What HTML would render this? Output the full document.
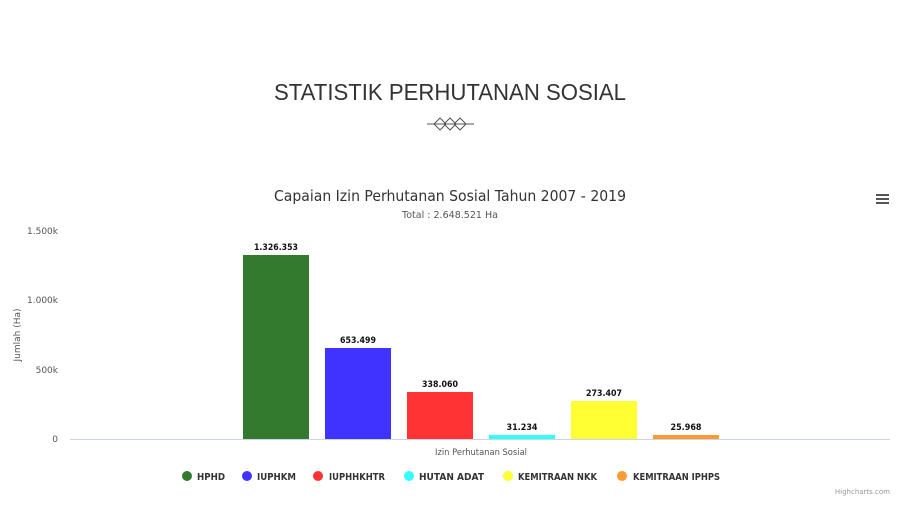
<!DOCTYPE html>
<html><head><meta charset="utf-8"><style>
body{margin:0;width:900px;height:503px;background:#fff;overflow:hidden;font-family:"DejaVu Sans","Liberation Sans",sans-serif;}
</style></head><body>
<svg width="900" height="503" xmlns="http://www.w3.org/2000/svg" font-family="DejaVu Sans, Liberation Sans, sans-serif">
<text x="450" y="100" text-anchor="middle" font-size="23" fill="#333" textLength="352" lengthAdjust="spacingAndGlyphs" font-family="Liberation Sans, sans-serif">STATISTIK PERHUTANAN SOSIAL</text>
<g stroke="#555" fill="none" stroke-width="1">
<line x1="427" y1="124" x2="474" y2="124"/>
<polygon points="434,124 440,118 446,124 440,130"/>
<polygon points="444,124 450,118 456,124 450,130"/>
<polygon points="454,124 460,118 466,124 460,130"/>
</g>
<text x="450" y="201" text-anchor="middle" font-size="15" fill="#333" textLength="352" lengthAdjust="spacingAndGlyphs">Capaian Izin Perhutanan Sosial Tahun 2007 - 2019</text>
<text x="450" y="218" text-anchor="middle" font-size="10" fill="#555" textLength="96" lengthAdjust="spacingAndGlyphs">Total : 2.648.521 Ha</text>
<g fill="#555"><rect x="876" y="194" width="13" height="2"/><rect x="876" y="198" width="13" height="2"/><rect x="876" y="202" width="13" height="2"/></g>
<g font-size="9" fill="#555" text-anchor="end">
<text x="58" y="234">1.500k</text><text x="58" y="303">1.000k</text><text x="58" y="373">500k</text><text x="58" y="442">0</text>
</g>
<text transform="translate(20,335) rotate(-90)" text-anchor="middle" font-size="9" fill="#555">Jumlah (Ha)</text>
<line x1="70" y1="439.5" x2="890" y2="439.5" stroke="#ccd6eb"/>
<rect x="243" y="255" width="66" height="184" fill="#337a2f"/>
<rect x="325" y="348" width="66" height="91" fill="#4033ff"/>
<rect x="407" y="392" width="66" height="47" fill="#ff3333"/>
<rect x="489" y="435" width="66" height="4" fill="#33ffff"/>
<rect x="571" y="401" width="66" height="38" fill="#ffff33"/>
<rect x="653" y="435" width="66" height="4" fill="#ff9933"/>
<g font-size="9" font-weight="bold" fill="#111" text-anchor="middle" lengthAdjust="spacingAndGlyphs">
<text x="276" y="250" textLength="44" lengthAdjust="spacingAndGlyphs">1.326.353</text><text x="358" y="343" textLength="36" lengthAdjust="spacingAndGlyphs">653.499</text><text x="440" y="387" textLength="36" lengthAdjust="spacingAndGlyphs">338.060</text>
<text x="522" y="430" textLength="31" lengthAdjust="spacingAndGlyphs">31.234</text><text x="604" y="396" textLength="36" lengthAdjust="spacingAndGlyphs">273.407</text><text x="686" y="430" textLength="31" lengthAdjust="spacingAndGlyphs">25.968</text>
</g>
<text x="481" y="455" text-anchor="middle" font-size="9" fill="#555" textLength="92" lengthAdjust="spacingAndGlyphs">Izin Perhutanan Sosial</text>
<g font-size="10" font-weight="bold" fill="#333">
<circle cx="187" cy="476" r="5" fill="#337a2f"/><text x="197" y="480" textLength="28" lengthAdjust="spacingAndGlyphs">HPHD</text>
<circle cx="247" cy="476" r="5" fill="#4033ff"/><text x="257" y="480" textLength="39" lengthAdjust="spacingAndGlyphs">IUPHKM</text>
<circle cx="318" cy="476" r="5" fill="#ff3333"/><text x="329" y="480" textLength="56" lengthAdjust="spacingAndGlyphs">IUPHHKHTR</text>
<circle cx="409" cy="476" r="5" fill="#33ffff"/><text x="419" y="480" textLength="65" lengthAdjust="spacingAndGlyphs">HUTAN ADAT</text>
<circle cx="508" cy="476" r="5" fill="#ffff33"/><text x="518" y="480" textLength="79" lengthAdjust="spacingAndGlyphs">KEMITRAAN NKK</text>
<circle cx="622" cy="476" r="5" fill="#ff9933"/><text x="633" y="480" textLength="87" lengthAdjust="spacingAndGlyphs">KEMITRAAN IPHPS</text>
</g>
<text x="890" y="494" text-anchor="end" font-size="7" fill="#999">Highcharts.com</text>
</svg>
</body></html>
